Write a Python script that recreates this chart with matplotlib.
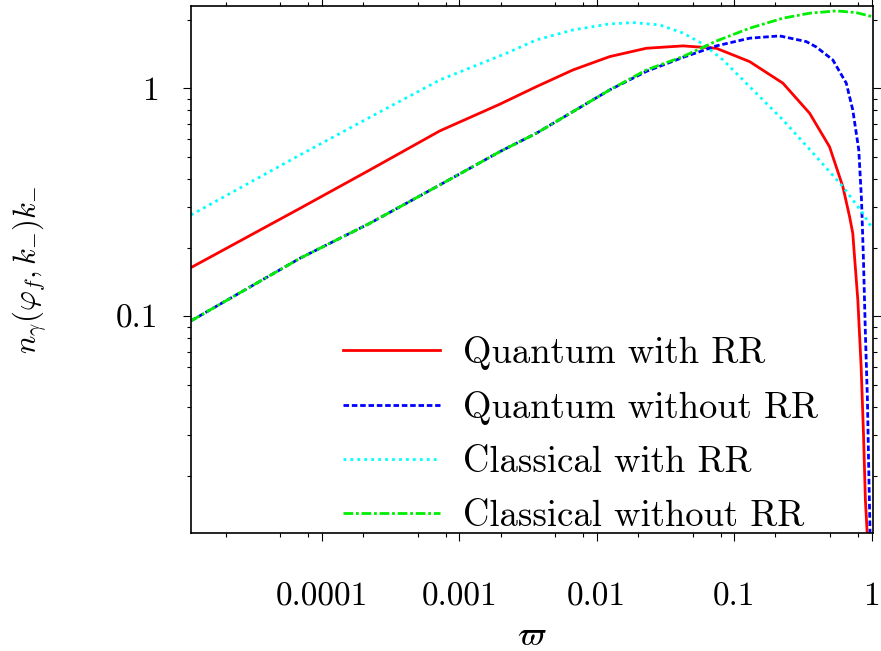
import numpy as np
import matplotlib
matplotlib.use("Agg")
import matplotlib.pyplot as plt
from matplotlib.ticker import LogLocator, FuncFormatter, NullFormatter


# ── Data ─────────────────────────────────────────────────────────────────────
quantum_rr_x = [1.12e-5, 6.96e-5, 2.244e-4, 7.24e-4, 1.977e-3, 3.651e-3, 6.737e-3, 0.01245,
                0.02301, 0.04246, 0.07424, 0.1297, 0.2265, 0.354, 0.4943, 0.618, 0.6918,
                0.7299, 0.7516, 0.7943, 0.8395, 0.873, 0.9016, 0.929]
quantum_rr_y = [0.1634, 0.2973, 0.4383, 0.650, 0.851, 1.016, 1.203, 1.376,
                1.497, 1.533, 1.497, 1.308, 1.052, 0.777, 0.554, 0.370, 0.2735,
                0.231, 0.1826, 0.1179, 0.0601, 0.0307, 0.01564, 0.01122]

quantum_x = [1.12e-5, 6.96e-5, 2.244e-4, 7.24e-4, 1.977e-3, 3.651e-3, 6.737e-3, 0.01245,
             0.02301, 0.04246, 0.07424, 0.1297, 0.2143, 0.335, 0.3957, 0.5224, 0.6546,
             0.7299, 0.8072, 0.845, 0.873, 0.9016, 0.933, 0.9528, 0.975]
quantum_y = [0.0954, 0.1796, 0.2557, 0.3766, 0.527, 0.6349, 0.7898, 0.9829,
             1.185, 1.365, 1.533, 1.657, 1.696, 1.601, 1.517, 1.331, 1.052,
             0.803, 0.536, 0.3236, 0.1765, 0.0842, 0.0430, 0.0219, 0.01122]

classical_rr_x = [1.12e-5, 6.96e-5, 2.244e-4, 7.24e-4, 2.21e-3, 3.651e-3, 6.737e-3, 0.01245,
                  0.01838, 0.02874, 0.04246, 0.05929, 0.08299, 0.1297, 0.2265, 0.3957,
                  0.618, 0.863, 1.008]
classical_rr_y = [0.278, 0.5099, 0.746, 1.087, 1.424, 1.629, 1.802, 1.914,
                  1.940, 1.895, 1.746, 1.563, 1.331, 1.016, 0.726, 0.501,
                  0.370, 0.283, 0.243]

classical_x = [1.12e-5, 6.96e-5, 2.244e-4, 7.24e-4, 1.977e-3, 3.651e-3, 6.737e-3, 0.01245,
               0.02301, 0.04246, 0.07424, 0.1297, 0.2265, 0.354, 0.5533, 0.7727, 1.008]
classical_y = [0.0954, 0.1796, 0.2557, 0.3766, 0.527, 0.6349, 0.7898, 0.9829,
               1.203, 1.376, 1.61, 1.833, 2.028, 2.133, 2.183, 2.146, 2.061]

labels = ["Quantum with RR", "Quantum without RR", "Classical with RR", "Classical without RR"]
x_ticks = [1e-4, 1e-3, 1e-2, 1e-1, 1]
y_ticks = [0.1, 1]


# ── Style ────────────────────────────────────────────────────────────────────
plt.rcParams["font.family"] = "serif"
plt.rcParams["font.serif"] = ["cmr10", "DejaVu Serif"]
plt.rcParams["mathtext.fontset"] = "cm"
plt.rcParams["axes.formatter.use_mathtext"] = True
TICK_FS = 24
LEG_FS = 26.4

fig = plt.figure(figsize=(8.81, 6.51), dpi=100)
ax = fig.add_axes([0.2168, 0.1813, 0.9913 - 0.2168, 0.9912 - 0.1813])

lw = 2.0
ax.plot(quantum_rr_x, quantum_rr_y, color="#ff0000", lw=lw, label=labels[0])
ax.plot(quantum_x, quantum_y, color="#0000ff", lw=lw, dashes=(2, 1), label=labels[1])
ax.plot(classical_rr_x, classical_rr_y, color="#00ffff", lw=lw, dashes=(1, 1.5), label=labels[2])
ax.plot(classical_x, classical_y, color="#00ee00", lw=lw, dashes=(3.5, 1, 1, 1), label=labels[3])

ax.set_xscale("log")
ax.set_yscale("log")
ax.set_xlim(1.12e-5, 1.03)
ax.set_ylim(0.0112, 2.3)

ax.xaxis.set_major_locator(plt.FixedLocator(x_ticks))
ax.xaxis.set_minor_locator(LogLocator(base=10, subs=(2, 5, 8), numticks=20))
ax.yaxis.set_major_locator(plt.FixedLocator(y_ticks))
ax.yaxis.set_minor_locator(LogLocator(base=10, subs=np.arange(2, 10), numticks=20))
fmt = FuncFormatter(lambda v, _: f"{v:g}")
ax.xaxis.set_major_formatter(fmt)
ax.yaxis.set_major_formatter(fmt)
ax.xaxis.set_minor_formatter(NullFormatter())
ax.yaxis.set_minor_formatter(NullFormatter())

ax.tick_params(which="both", direction="out", top=True, right=True, width=0.8)
ax.tick_params(which="major", length=5.5, labelsize=TICK_FS)
ax.tick_params(which="minor", length=3)
ax.tick_params(axis="x", which="major", pad=30)
ax.tick_params(axis="y", which="major", pad=18)
for s in ax.spines.values():
    s.set_linewidth(1.2)

ax.set_xlabel(r"$\varpi$", fontsize=24, labelpad=8)
ax.set_ylabel(r"$n_\gamma(\varphi_f,k_{-})k_{-}$", fontsize=22, labelpad=48)

ax.legend(loc="lower left", bbox_to_anchor=(0.223, 0.0), frameon=False, fontsize=LEG_FS,
          handlelength=2.64, handletextpad=0.63, labelspacing=0.57,
          borderpad=0, borderaxespad=0)

fig.savefig("out.png", dpi=100)
